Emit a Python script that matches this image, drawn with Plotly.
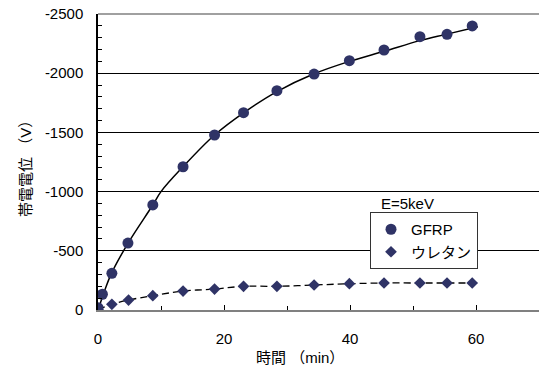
import plotly.graph_objects as go

# GFRP measured points (time in min, potential in V)
gfrp_t = [0, 0.7, 2.2, 4.75, 8.7, 13.5, 18.5, 23.1, 28.4, 34.3, 39.9, 45.4, 51.1, 55.4, 59.4]
gfrp_v = [-20, -133, -310, -565, -887, -1210, -1478, -1667, -1852, -1993, -2106, -2196, -2308, -2328, -2399]

# GFRP trend curve
fit_t = [0, 1, 2.1, 4.75, 8.7, 10, 13.5, 18.5, 23.5, 28.4, 34.3, 39.9, 45.4, 51.1, 55.4, 60.3]
fit_v = [0, -155, -305, -563, -887, -1000, -1210, -1478, -1680, -1845, -1995, -2100, -2185, -2275, -2330, -2393]

# Urethane measured points
ure_t = [0, 2.2, 4.85, 8.7, 13.5, 18.5, 23.1, 28.4, 34.3, 39.9, 45.4, 51.1, 55.4, 59.4]
ure_v = [-5, -48, -84, -121, -160, -177, -200, -200, -211, -222, -228, -228, -228, -228]

y_ticks = [0, -500, -1000, -1500, -2000, -2500]
y_labels = ["0", "-500", "-1000", "-1500", "-2000", "-2500"]
x_ticks = [0, 20, 40, 60]

NAVY = "#2f3366"
FONT = "Liberation Sans, Arial, Noto Sans CJK JP"

fig = go.Figure()
fig.add_trace(go.Scatter(x=fit_t, y=fit_v, mode="lines", line=dict(color="black", width=1.5, shape="spline"),
                         showlegend=False, hoverinfo="skip"))
fig.add_trace(go.Scatter(x=ure_t, y=ure_v, mode="lines", line=dict(color="black", width=1.3, dash="7px,4px", shape="spline"),
                         showlegend=False, hoverinfo="skip"))
fig.add_trace(go.Scatter(x=gfrp_t, y=gfrp_v, mode="markers", name="GFRP",
                         marker=dict(symbol="circle", size=11, color=NAVY)))
fig.add_trace(go.Scatter(x=ure_t, y=ure_v, mode="markers", name="ウレタン",
                         marker=dict(symbol="diamond", size=9, color=NAVY)))

fig.update_layout(
    width=540, height=367,
    margin=dict(l=98, r=1, t=14, b=57),
    paper_bgcolor="white", plot_bgcolor="white",
    font=dict(family=FONT, size=15, color="black"),
    xaxis=dict(range=[0, 70], tickvals=x_ticks, ticks="inside", ticklen=5, tickcolor="black",
               showgrid=False, zeroline=False, showline=True, linecolor="#808080", linewidth=2,
               minor=dict(dtick=10, ticks="inside", ticklen=4, tickcolor="black", showgrid=False),
               tickfont=dict(size=15, color="black"), ticklabelstandoff=14, mirror=False),
    yaxis=dict(range=[0, -2500], tickvals=y_ticks, ticktext=y_labels, ticks="inside", ticklen=5,
               tickcolor="black", showgrid=True, gridcolor="black", gridwidth=1, zeroline=False,
               showline=True, linecolor="black", linewidth=1.5,
               minor=dict(dtick=100, ticks="inside", ticklen=4, tickcolor="black", showgrid=False),
               tickfont=dict(size=15, color="black"), ticklabelstandoff=10),
    legend=dict(x=(370 - 98) / 441, y=(310 - 212) / 296, xanchor="left", yanchor="top",
                bgcolor="white", bordercolor="#333333", borderwidth=1,
                font=dict(size=15, family=FONT, color="black"), itemwidth=30, tracegroupgap=0),
    showlegend=True,
)

# top border line (gray)
fig.add_shape(type="line", xref="paper", yref="paper", x0=0, x1=1, y0=1, y1=1,
              line=dict(color="#808080", width=1.5))

fig.add_annotation(text="E=5keV", xref="paper", yref="paper", x=(379 - 98) / 441, y=(310 - 203) / 296,
                   xanchor="left", yanchor="middle", showarrow=False, font=dict(size=15, family=FONT, color="black"))
fig.add_annotation(text="時間 （min）", xref="paper", yref="paper", x=(300 - 98) / 441, y=-(357 - 310) / 296,
                   xanchor="center", yanchor="middle", showarrow=False, font=dict(size=15, family=FONT, color="black"))
fig.add_annotation(text="帯電電位 （V）", xref="paper", yref="paper", x=(25 - 98) / 441, y=(310 - 165) / 296,
                   xanchor="center", yanchor="middle", textangle=-90, showarrow=False,
                   font=dict(size=15, family=FONT, color="black"))

fig.write_html("out.html")
